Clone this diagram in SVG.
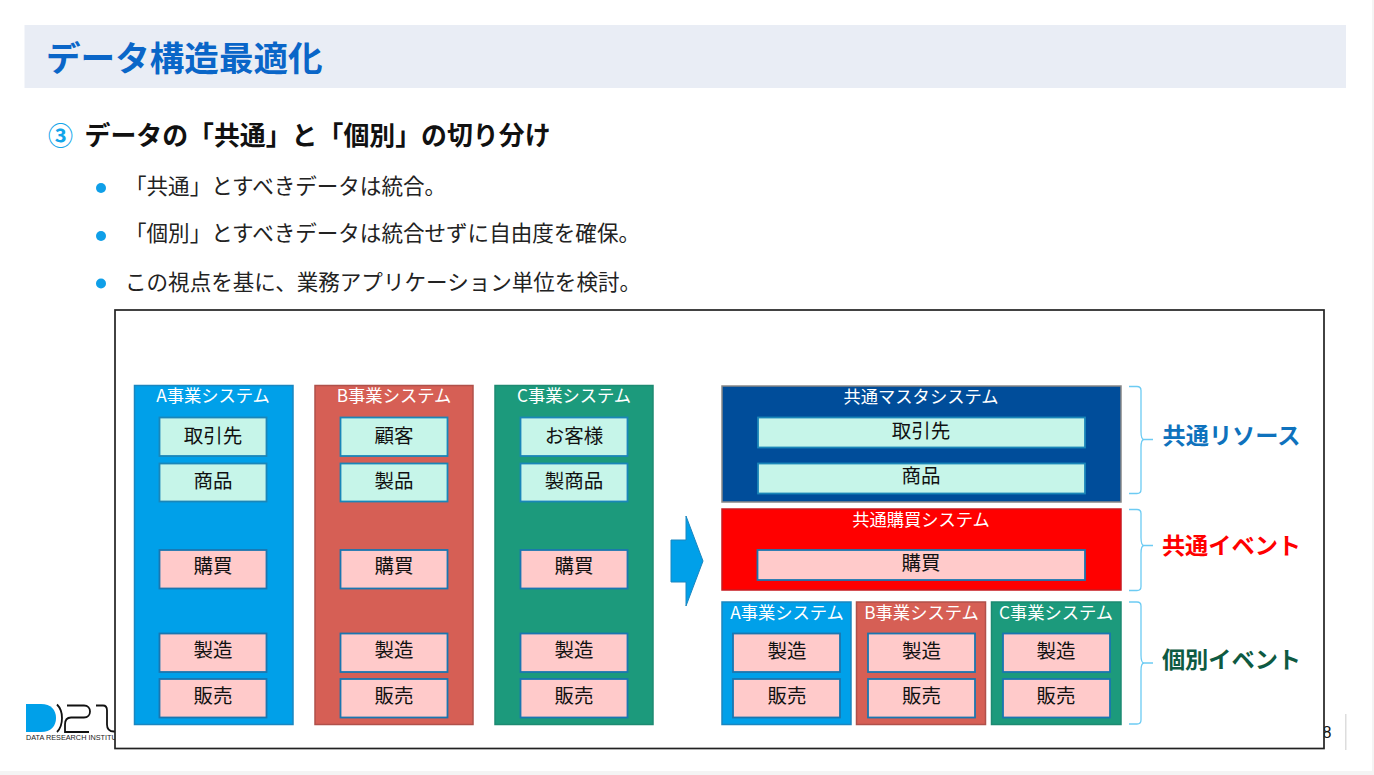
<svg xmlns="http://www.w3.org/2000/svg" width="1374" height="775" viewBox="0 0 1374 775">
<style>
text{font-family:"Noto Sans CJK JP","Noto Sans",sans-serif;text-anchor:middle}
.sys{stroke-width:1.5}
.a{fill:#00a0e9;stroke:#1a86c0}.b{fill:#d65f55;stroke:#b0504a}.c{fill:#1c9a7c;stroke:#1d8a72}
.m{fill:#c6f5e9;stroke:#1a86b8;stroke-width:1.8}.p{fill:#ffcaca;stroke:#1a76b0;stroke-width:1.8}
.st{fill:#fff;font-size:17.3px}.nt{fill:#111;font-size:19.5px}
.bl{font-size:21.55px;fill:#222;text-anchor:start}
.lbl{font-size:23.2px;font-weight:700}
.br{fill:none;stroke:#6ccbf3;stroke-width:1.3}
</style>
<rect width="1374" height="775" fill="#f4f4f4"/>
<rect width="1372" height="771" fill="#fff"/>
<g id="header"><rect x="24.500" y="25" width="1321.500" height="63" fill="#e9edf5"/>
<text x="46" y="71" style="text-anchor:start;font-size:34.6px;font-weight:700" fill="#0a66c8">データ構造最適化</text></g>
<g id="heading">
<text x="60.500" y="145" style="font-size:25px;font-weight:700" fill="#12a5ea">③</text>
<text x="84.500" y="145" style="text-anchor:start;font-size:25.9px;font-weight:700" fill="#111">データの「共通」と「個別」の切り分け</text></g>
<g id="bullets" fill="#0f9fe8"><circle cx="101" cy="188" r="5"/><circle cx="101" cy="236" r="5"/><circle cx="101" cy="283.500" r="5"/>
<text class="bl" x="125" y="194">「共通」とすべきデータは統合。</text>
<text class="bl" x="125" y="241">「個別」とすべきデータは統合せずに自由度を確保。</text>
<text class="bl" x="125" y="290">この視点を基に、業務アプリケーション単位を検討。</text></g>
<g id="logo">
<path d="M26 704h15c10 0 15 6 15 14s-5 14-15 14H26z" fill="#00a0e9"/>
<path d="M57 704.500c4 4 5 9 5 13.500s-1 10-5 14M67 705.500h17c4 0 6 3 6 6s-2 6-6 6H71c-4 0-6 3-6 7v7.500h24M96 705.500h7c3 0 4 2 4 5v14c0 5 3 7 7 7h6" fill="none" stroke="#111" stroke-width="1.800"/>
<text x="26" y="740" style="text-anchor:start;font-size:8px;font-family:'Liberation Sans',sans-serif" fill="#222" textLength="100" lengthAdjust="spacingAndGlyphs">DATA RESEARCH INSTITUTE</text></g>
<g id="pagenum"><text x="1327" y="738" style="font-size:16px;font-family:'Liberation Sans',sans-serif" fill="#111">8</text><rect x="1345" y="714" width="1.500" height="36" fill="#ddd"/></g>
<g id="frame"><rect x="115" y="310" width="1209" height="438.500" fill="#fff" stroke="#222" stroke-width="1.700"/></g>

<g id="sysA"><rect class="sys a" x="134.500" y="385.500" width="158.500" height="339"/>
<text class="st" x="213" y="402">A事業システム</text>
<rect class="m" x="159.500" y="417.500" width="107" height="38.500"/><text class="nt" x="213" y="443">取引先</text>
<rect class="m" x="159.500" y="463.500" width="107" height="38"/><text class="nt" x="213" y="488">商品</text>
<rect class="p" x="159.500" y="550" width="107" height="38.500"/><text class="nt" x="213" y="573">購買</text>
<rect class="p" x="159.500" y="633.500" width="107" height="38.500"/><text class="nt" x="213" y="657">製造</text>
<rect class="p" x="159.500" y="679" width="107" height="38.500"/><text class="nt" x="213" y="703">販売</text></g>
<g id="sysB"><rect class="sys b" x="315" y="385.500" width="158" height="339"/>
<text class="st" x="394" y="402">B事業システム</text>
<rect class="m" x="340.500" y="417.500" width="107" height="38.500"/><text class="nt" x="394" y="443">顧客</text>
<rect class="m" x="340.500" y="463.500" width="107" height="38"/><text class="nt" x="394" y="488">製品</text>
<rect class="p" x="340.500" y="550" width="107" height="38.500"/><text class="nt" x="394" y="573">購買</text>
<rect class="p" x="340.500" y="633.500" width="107" height="38.500"/><text class="nt" x="394" y="657">製造</text>
<rect class="p" x="340.500" y="679" width="107" height="38.500"/><text class="nt" x="394" y="703">販売</text></g>
<g id="sysC"><rect class="sys c" x="495" y="385.500" width="158" height="339"/>
<text class="st" x="574" y="402">C事業システム</text>
<rect class="m" x="520.500" y="417.500" width="107" height="38.500"/><text class="nt" x="574" y="443">お客様</text>
<rect class="m" x="520.500" y="463.500" width="107" height="38"/><text class="nt" x="574" y="488">製商品</text>
<rect class="p" x="520.500" y="550" width="107" height="38.500"/><text class="nt" x="574" y="573">購買</text>
<rect class="p" x="520.500" y="633.500" width="107" height="38.500"/><text class="nt" x="574" y="657">製造</text>
<rect class="p" x="520.500" y="679" width="107" height="38.500"/><text class="nt" x="574" y="703">販売</text></g>

<g id="connectors"><path d="M671 540h15v-24l17 45-17 45v-24h-15z" fill="#00a0e9" stroke="#1a86c0" stroke-width="1"/></g>

<g id="master"><rect x="722" y="386" width="399" height="116" fill="#004d9a" stroke="#888" stroke-width="1.500"/>
<text class="st" x="921" y="403">共通マスタシステム</text>
<rect class="m" x="758" y="417.500" width="327" height="30"/><text class="nt" x="921" y="438">取引先</text>
<rect class="m" x="758" y="463.500" width="327" height="30"/><text class="nt" x="921" y="483">商品</text></g>
<g id="purchase"><rect x="722" y="509" width="399" height="81" fill="#f00" stroke="#c8191f" stroke-width="1.500"/>
<text class="st" x="921" y="526">共通購買システム</text>
<rect class="p" x="757.500" y="550" width="327.500" height="30"/><text class="nt" x="921" y="570">購買</text></g>
<g id="sysA2"><rect class="sys a" x="722" y="602" width="129" height="122.500"/>
<text class="st" x="787" y="619">A事業システム</text>
<rect class="p" x="733" y="633.500" width="107" height="38.500"/><text class="nt" x="787" y="658">製造</text>
<rect class="p" x="733" y="679" width="107" height="38.500"/><text class="nt" x="787" y="703">販売</text></g>
<g id="sysB2"><rect class="sys b" x="856.500" y="602" width="129" height="122.500"/>
<text class="st" x="921.500" y="619">B事業システム</text>
<rect class="p" x="868" y="633.500" width="107" height="38.500"/><text class="nt" x="921.500" y="658">製造</text>
<rect class="p" x="868" y="679" width="107" height="38.500"/><text class="nt" x="921.500" y="703">販売</text></g>
<g id="sysC2"><rect class="sys c" x="991.500" y="602" width="129.500" height="122.500"/>
<text class="st" x="1056" y="619">C事業システム</text>
<rect class="p" x="1003" y="633.500" width="107" height="38.500"/><text class="nt" x="1056" y="658">製造</text>
<rect class="p" x="1003" y="679" width="107" height="38.500"/><text class="nt" x="1056" y="703">販売</text></g>

<g id="brackets">
<path class="br" d="M1129 386.500h8q4 0 4 4v41q0 8 3 8q-3 0-3 8v42q0 4-4 4h-8M1144 439.500h9"/>
<path class="br" d="M1129 509.500h8q4 0 4 4v24q0 8 3 8q-3 0-3 8v33q0 4-4 4h-8M1144 545.500h9"/>
<path class="br" d="M1129 602h8q4 0 4 4v49q0 8 3 8q-3 0-3 8v49q0 4-4 4h-8M1144 663h9"/>
</g>
<g id="labels">
<text class="lbl" x="1231.500" y="444" fill="#0f72bd">共通リソース</text>
<text class="lbl" x="1231.500" y="554" fill="#f00">共通イベント</text>
<text class="lbl" x="1231.500" y="668" fill="#0e5a42">個別イベント</text></g>
</svg>
